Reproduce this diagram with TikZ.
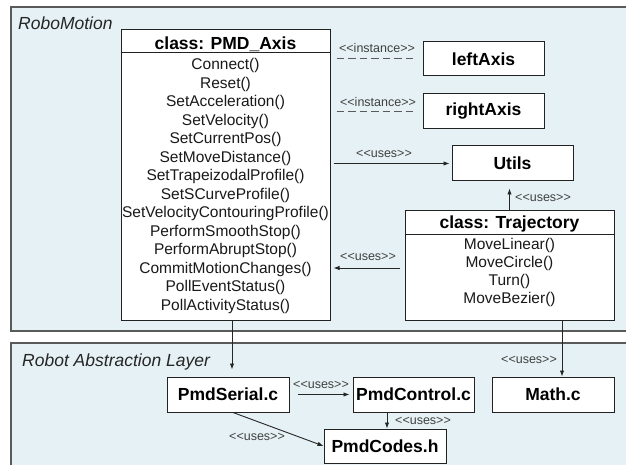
\documentclass[tikz,border=0pt]{standalone}
\usepackage{fontspec}
\setmainfont{Liberation Sans}
\usetikzlibrary{arrows.meta}
\definecolor{panelfill}{HTML}{E5F1F4}
\definecolor{panelline}{HTML}{5A5A5A}
\definecolor{boxline}{HTML}{222222}
\definecolor{lbl}{HTML}{404040}
\newcommand{\stereo}[1]{{<}{<}#1{>}{>}}
\tikzset{
 panel/.style={draw=panelline, line width=1.4pt, fill=panelfill},
 box/.style={draw=boxline, line width=1pt, fill=white, inner sep=0pt, font=\fontsize{17.5}{20}\selectfont\bfseries},
 titletext/.style={font=\fontsize{17.5}{20}\selectfont\bfseries, text=black, inner sep=0pt},
 method/.style={font=\fontsize{15.5}{18}\selectfont, text=black!90, inner sep=0pt, text height=11pt, text depth=3.5pt},
 lab/.style={font=\fontsize{12.5}{15}\selectfont, text=lbl, inner sep=0pt},
 layertitle/.style={font=\fontsize{17.5}{20}\selectfont\itshape, text=black!85, inner sep=0pt, anchor=west},
 conn/.style={draw=black!85, line width=0.9pt, -{Latex[length=6pt,width=4.5pt]}},
 inst/.style={draw=panelline, line width=1pt, dash pattern=on 7.5pt off 4pt},
 sepline/.style={draw=boxline, line width=1pt},
}
\begin{document}
\begin{tikzpicture}[x=1pt,y=-1pt]
\useasboundingbox (0,0) rectangle (626,465);
\clip (0,0) rectangle (626,465);
\fill[white] (0,0) rectangle (626,465);
% panels
\path[panel] (11,7) rectangle (640,331);
\path[panel] (11,343) rectangle (640,480);
\node[layertitle] (lt1) at (18,23) {RoboMotion};
\node[layertitle] (lt2) at (22,362) {Robot Abstraction Layer};
% PMD_Axis class
\node[box, minimum width=209pt, minimum height=290pt] (pmd) at (225.5,175) {};
\draw[sepline] ([yshift=-23pt]pmd.north west) -- ([yshift=-23pt]pmd.north east);
\node[titletext] (pmdtitle) at (225.5,44) {class: PMD\_Axis};
\foreach \m [count=\i] in {Connect(),Reset(),SetAcceleration(),SetVelocity(),SetCurrentPos(),SetMoveDistance(),SetTrapeizodalProfile(),SetSCurveProfile(),SetVelocityContouringProfile(),PerformSmoothStop(),PerformAbruptStop(),CommitMotionChanges(),PollEventStatus(),PollActivityStatus()}
  \node[method] (pmdm\i) at (225.5,{66+18.5*(\i-1)}) {\m};
% Trajectory class
\node[box, minimum width=209pt, minimum height=110pt] (tr) at (509.5,265) {};
\draw[sepline] ([yshift=-25pt]tr.north west) -- ([yshift=-25pt]tr.north east);
\node[titletext] (trtitle) at (509.5,224) {class: Trajectory};
\foreach \m [count=\i] in {MoveLinear(),MoveCircle(),Turn(),MoveBezier()}
  \node[method] (trm\i) at (509.5,{246+18*(\i-1)}) {\m};
% simple boxes
\node[box, minimum width=121pt, minimum height=34pt] (la) at (483.5,59) {leftAxis};
\node[box, minimum width=121pt, minimum height=35pt] (ra) at (483.5,111.5) {rightAxis};
\node[box, minimum width=121pt, minimum height=35pt] (ut) at (512.5,163.5) {Utils};
\node[box, minimum width=122pt, minimum height=35pt] (ps) at (228,394.5) {PmdSerial.c};
\node[box, minimum width=121pt, minimum height=35pt] (pc) at (413.5,394.5) {PmdControl.c};
\node[box, minimum width=122pt, minimum height=35pt] (mc) at (553,394.5) {Math.c};
\node[box, minimum width=122pt, minimum height=34pt] (pcd) at (385,446) {PmdCodes.h};
% instance links
\draw[inst] ([xshift=6pt]pmd.east |- la.west) -- ([xshift=-6pt]la.west);
\draw[inst] ([xshift=6pt]pmd.east |- ra.west) -- ([xshift=-6pt]ra.west);
\node[lab] (li1) at (377,48) {\stereo{instance}};
\node[lab] (li2) at (378,102) {\stereo{instance}};
% uses links
\draw[conn] ([xshift=3pt]pmd.east |- ut.west) -- ([xshift=-2pt]ut.west);
\node[lab] (lu1) at (384,154) {\stereo{uses}};
\draw[conn] (tr.north) -- ([yshift=-7pt]ut.south -| tr.north);
\node[lab] (lu2) at (543,198) {\stereo{uses}};
\coordinate (trw) at ([xshift=-5pt,yshift=-3pt]tr.west);
\draw[conn] (trw) -- ([xshift=3pt]pmd.east |- trw);
\node[lab] (lu3) at (368,257) {\stereo{uses}};
\draw[conn] ([xshift=4pt]ps.north |- pmd.south) -- ([xshift=4pt,yshift=7pt]ps.north);
\draw[conn] ([xshift=9pt]mc.north |- tr.south) -- ([xshift=9pt]mc.north);
\node[lab] (lu4) at (529,360) {\stereo{uses}};
\draw[conn] ([xshift=8pt]ps.east) -- ([xshift=-3pt]pc.west);
\node[lab] (lu5) at (321,385) {\stereo{uses}};
\draw[conn] ([xshift=2pt]pcd.north |- pc.south) -- ([xshift=2pt]pcd.north);
\node[lab] (lu6) at (423,421) {\stereo{uses}};
\draw[conn] ([xshift=5pt]ps.south) -- (pcd.west);
\node[lab] (lu7) at (257,437) {\stereo{uses}};
\end{tikzpicture}
\end{document}
